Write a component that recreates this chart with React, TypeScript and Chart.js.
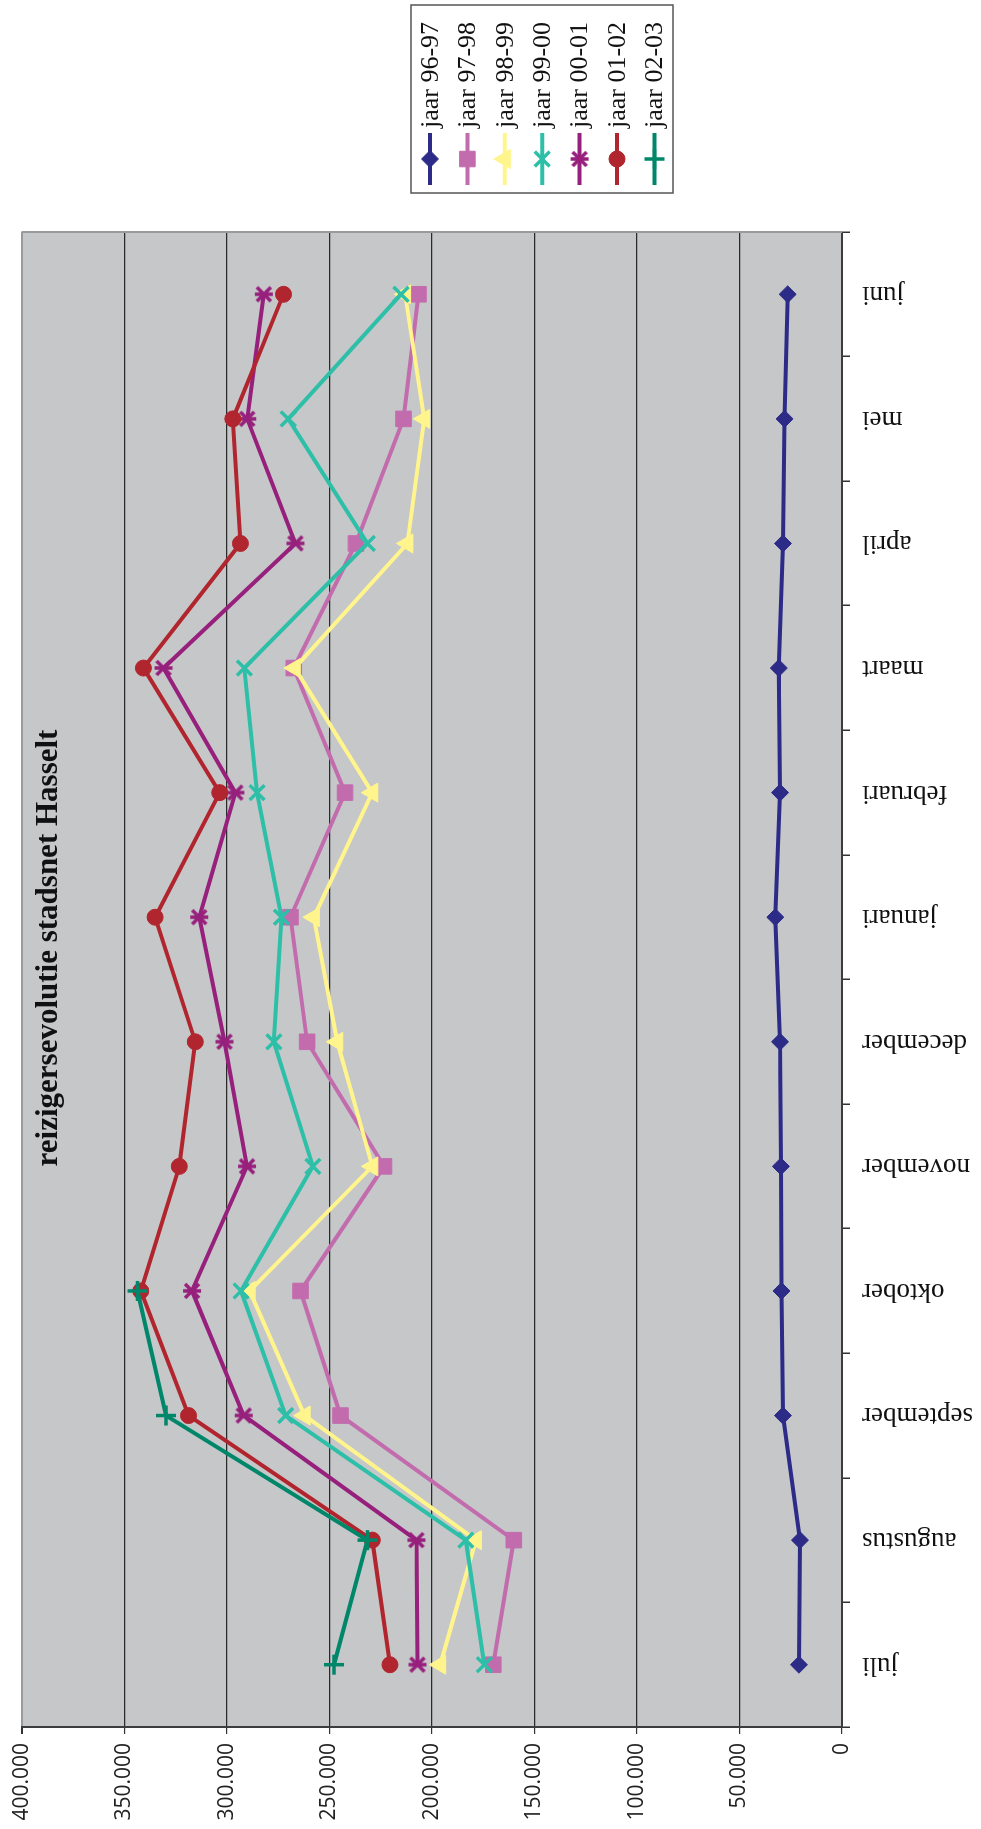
import React, { useEffect, useRef } from 'react';
import { Chart, registerables } from 'chart.js';
import { drawPoint } from 'chart.js/helpers';

Chart.register(...registerables);

// Months of the service year, July to June
const months = [
  'juli', 'augustus', 'september', 'oktober', 'november', 'december',
  'januari', 'februari', 'maart', 'april', 'mei', 'juni',
];

// Passenger counts per month for each service year
const jaar9697 = [21000, 20500, 28800, 29500, 29800, 30200, 32500, 30200, 30800, 28800, 28000, 26500];
const jaar9798 = [170000, 160000, 244500, 264000, 223300, 260800, 268900, 242300, 267300, 237000, 213800, 206500];
const jaar9899 = [195900, 178500, 262000, 288800, 229000, 246100, 257500, 229000, 266800, 211900, 203700, 213000];
const jaar9900 = [174400, 183400, 271300, 293000, 258000, 277000, 273300, 285200, 291400, 231400, 270000, 215000];
const jaar0001 = [207000, 207500, 291700, 316900, 290100, 301100, 313400, 295800, 330800, 266500, 290000, 281900];
const jaar0102 = [220400, 229000, 318600, 341900, 323100, 315300, 334900, 303400, 340600, 293300, 297000, 272300];
const jaar0203 = [247700, 231400, 329600, 343500, null, null, null, null, null, null, null, null];

const seriesLabels = ['jaar 96-97', 'jaar 97-98', 'jaar 98-99', 'jaar 99-00', 'jaar 00-01', 'jaar 01-02', 'jaar 02-03'];
const seriesColors = ['#2C2C88', '#C26CAE', '#FFF58C', '#2DBFA7', '#97207D', '#B1262E', '#00876A'];

// Value axis range
const valueMin = 0;
const valueMax = 400000;
const valueStep = 50000;

const title = 'reizigersevolutie stadsnet Hasselt';

// Chart is laid out landscape and turned a quarter turn counter-clockwise on the page
const W = 1829;
const H = 981;

const formatThousands = (v: number) => String(Math.round(v)).replace(/\B(?=(\d{3})+(?!\d))/g, '.');

function makeAsterisk(color: string): HTMLCanvasElement {
  const c = document.createElement('canvas');
  c.width = 22;
  c.height = 22;
  const g = c.getContext('2d')!;
  g.strokeStyle = color;
  g.lineWidth = 3.5;
  g.lineCap = 'butt';
  g.beginPath();
  g.moveTo(4, 4); g.lineTo(18, 18);
  g.moveTo(18, 4); g.lineTo(4, 18);
  g.moveTo(11, 2); g.lineTo(11, 20);
  g.stroke();
  return c;
}

export default function App() {
  const canvasRef = useRef<HTMLCanvasElement | null>(null);

  useEffect(() => {
    const canvas = canvasRef.current;
    if (!canvas) return;

    const asterisk = makeAsterisk(seriesColors[4]);
    const values = [jaar9697, jaar9798, jaar9899, jaar9900, jaar0001, jaar0102, jaar0203];
    const styles: any[] = ['rectRot', 'rect', 'triangle', 'crossRot', asterisk, 'circle', 'cross'];
    const radii = [8.5, 11, 11, 10.5, 11, 8, 10];
    const pointBorders = [1, 1, 1, 3.5, 0, 1, 3.5];

    const datasets = values.map((data, i) => ({
      label: seriesLabels[i],
      data,
      borderColor: seriesColors[i],
      backgroundColor: seriesColors[i],
      borderWidth: 4,
      tension: 0,
      pointStyle: styles[i],
      pointRadius: radii[i],
      pointBorderWidth: pointBorders[i],
      pointBackgroundColor: seriesColors[i],
      pointBorderColor: seriesColors[i],
      spanGaps: false,
      order: 10 - i,
    }));

    const plotBackground = {
      id: 'plotBackground',
      beforeDraw(chart: any) {
        const { ctx, chartArea: a } = chart;
        ctx.save();
        ctx.fillStyle = '#C6C7C9';
        ctx.fillRect(a.left, a.top, a.right - a.left, a.bottom - a.top);
        ctx.restore();
      },
      beforeDatasetsDraw(chart: any) {
        const { ctx, chartArea: a } = chart;
        ctx.save();
        ctx.strokeStyle = '#9A9A9A';
        ctx.lineWidth = 2;
        ctx.beginPath();
        ctx.moveTo(a.right, a.top);
        ctx.lineTo(a.right, a.bottom);
        ctx.stroke();
        ctx.restore();
      },
    };

    const titleAndLegend = {
      id: 'titleAndLegend',
      afterDraw(chart: any) {
        const { ctx } = chart;
        ctx.save();
        // title
        ctx.fillStyle = '#111';
        ctx.font = 'bold 31px "Liberation Serif", "Times New Roman", serif';
        ctx.textAlign = 'center';
        ctx.textBaseline = 'middle';
        ctx.fillText(title, 881, 49);

        // legend box
        const boxL = 1636, boxR = 1824, boxT = 411, boxB = 673;
        ctx.fillStyle = '#fff';
        ctx.fillRect(boxL, boxT, boxR - boxL, boxB - boxT);
        ctx.strokeStyle = '#555';
        ctx.lineWidth = 1.5;
        ctx.strokeRect(boxL, boxT, boxR - boxL, boxB - boxT);

        ctx.font = '26px "Liberation Serif", "Times New Roman", serif';
        ctx.textAlign = 'left';
        ctx.textBaseline = 'middle';
        chart.data.datasets.forEach((ds: any, i: number) => {
          const y = 430 + i * 37.4;
          ctx.strokeStyle = ds.borderColor;
          ctx.fillStyle = ds.borderColor;
          ctx.lineWidth = 4;
          ctx.beginPath();
          ctx.moveTo(1644, y);
          ctx.lineTo(1696, y);
          ctx.stroke();
          ctx.lineWidth = ds.pointBorderWidth || 1;
          drawPoint(ctx, {
            pointStyle: ds.pointStyle,
            rotation: 0,
            radius: ds.pointRadius,
            borderWidth: ds.pointBorderWidth,
          } as any, 1670, y);
          ctx.fillStyle = '#111';
          ctx.fillText(ds.label, 1701, y + 1);
        });
        ctx.restore();
      },
    };

    const chart = new Chart(canvas, {
      type: 'line',
      data: { labels: months, datasets },
      options: {
        responsive: false,
        animation: false,
        devicePixelRatio: 1,
        layout: { padding: { left: 0, right: W - 1597, top: 21, bottom: 0 } },
        plugins: {
          legend: { display: false },
          title: { display: false },
          tooltip: { enabled: false },
        },
        scales: {
          x: {
            type: 'category',
            offset: true,
            grid: {
              display: true,
              drawOnChartArea: false,
              drawTicks: true,
              tickLength: 8,
              offset: true,
              color: '#333',
              lineWidth: 1.5,
            },
            border: { display: true, color: '#3C3C3C', width: 2 },
            ticks: {
              autoSkip: false,
              minRotation: 90,
              maxRotation: 90,
              padding: 12,
              color: '#111',
              font: { family: '"Liberation Serif", "Times New Roman", serif', size: 27 },
            },
            afterFit: (s: any) => { s.height = H - 842; },
          },
          y: {
            min: valueMin,
            max: valueMax,
            grid: {
              color: (c: any) => (c.tick && c.tick.value === valueMax ? '#9A9A9A' : '#2B2B2B'),
              lineWidth: (c: any) => (c.tick && c.tick.value === valueMax ? 2 : 1.2),
              tickColor: '#333',
              tickLength: 7,
            },
            border: { display: true, color: '#3C3C3C', width: 2 },
            ticks: {
              stepSize: valueStep,
              padding: 9,
              color: '#222',
              font: { family: '"Open Sans", "Liberation Sans", sans-serif', size: 21 },
              callback: (v: any) => formatThousands(Number(v)),
            },
            afterFit: (s: any) => { s.width = 102; },
          },
        },
      },
      plugins: [plotBackground, titleAndLegend],
    } as any);

    return () => chart.destroy();
  }, []);

  return (
    <div style={{ position: 'fixed', left: 0, top: 0, width: 981, height: 1829, overflow: 'hidden', background: '#fff' }}>
      <div
        style={{
          position: 'absolute',
          left: 0,
          top: 0,
          width: W,
          height: H,
          transformOrigin: '0 0',
          transform: `translate(0px, ${W}px) rotate(-90deg)`,
        }}
      >
        <canvas ref={canvasRef} width={W} height={H} style={{ display: 'block', width: W, height: H }} />
      </div>
    </div>
  );
}
